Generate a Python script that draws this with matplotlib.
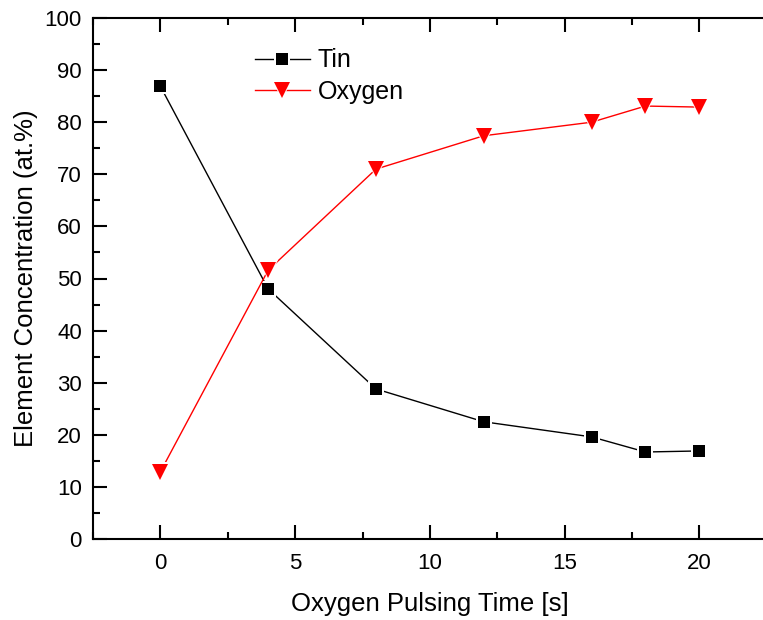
import matplotlib
matplotlib.use("Agg")
import matplotlib.pyplot as plt
from matplotlib.ticker import MultipleLocator
from matplotlib.legend_handler import HandlerTuple

plt.rcParams['font.family'] = ['Liberation Sans', 'DejaVu Sans']

time_s = [0, 4, 8, 12, 16, 18, 20]
tin = [86.9, 48.0, 28.8, 22.5, 19.6, 16.7, 16.9]
oxygen = [12.9, 51.6, 71.0, 77.4, 80.0, 83.1, 82.9]

W, H = 763, 620
fig = plt.figure(figsize=(W / 100, H / 100), dpi=100)
left, right, top, bottom = 93, 766.75, 18, 539
ax = fig.add_axes([left / W, 1 - bottom / H, (right - left) / W, (bottom - top) / H])

handles = []
z = 2
for y, c, m, ms, lab in [(tin, 'black', 's', 8.5, 'Tin'),
                         (oxygen, 'red', 'v', 11.5, 'Oxygen')]:
    ln, = ax.plot(time_s, y, color=c, lw=1.0, marker=m, ms=ms + 3.6,
                  markerfacecolor='white', markeredgewidth=0, zorder=z)
    mk, = ax.plot(time_s, y, ls='none', marker=m, ms=ms,
                  markerfacecolor=c, markeredgewidth=0, zorder=z + 0.1)
    handles.append(((ln, mk), lab))
    z += 0.2

ax.set_xlim(-2.5, 22.5)
ax.set_ylim(0, 100)
ax.xaxis.set_major_locator(MultipleLocator(5))
ax.xaxis.set_minor_locator(MultipleLocator(2.5))
ax.yaxis.set_major_locator(MultipleLocator(10))
ax.yaxis.set_minor_locator(MultipleLocator(5))
ax.tick_params(which='both', direction='in', top=True, right=False, width=1.5,
               labelsize=16)
ax.tick_params(axis='x', which='both', pad=10)
ax.tick_params(axis='y', which='both', pad=8)
ax.tick_params(which='major', length=10)
ax.tick_params(which='minor', length=5)
for s in ax.spines.values():
    s.set_linewidth(1.5)

ax.set_xlabel('Oxygen Pulsing Time [s]', fontsize=18.5, labelpad=13)
ax.set_ylabel('Element Concentration (at.%)', fontsize=18.5, labelpad=5)

leg = ax.legend([h for h, _ in handles], [l for _, l in handles],
                handler_map={tuple: HandlerTuple(ndivide=1)},
                loc='upper left', bbox_to_anchor=(0.207, 0.985), frameon=False,
                fontsize=18, handlelength=2.2, handletextpad=0.3, labelspacing=0.3)

fig.savefig('out.png', dpi=100)
